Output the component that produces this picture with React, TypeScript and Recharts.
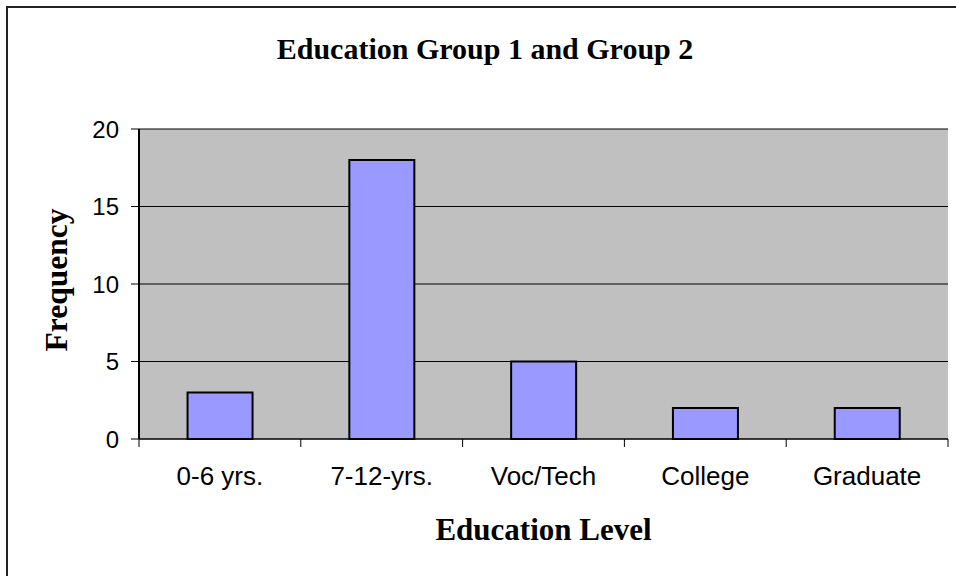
import * as React from "react"
import { BarChart, Bar, XAxis, YAxis, CartesianGrid, Label } from "recharts"

const categories = ["0-6 yrs.", "7-12-yrs.", "Voc/Tech", "College", "Graduate"]
const frequency = [3, 18, 5, 2, 2]
const yTicks = [0, 5, 10, 15, 20]

const data = categories.map((name, i) => ({ name, value: frequency[i] }))

const W = 956
const H = 576
const PLOT_LEFT = 139
const PLOT_RIGHT = 948
const PLOT_TOP = 129
const PLOT_BOTTOM = 439
const X_AXIS_H = 60
const BAND = (PLOT_RIGHT - PLOT_LEFT) / categories.length

const sans = "'Liberation Sans', Arial, sans-serif"
const serif = "'Liberation Serif', 'Times New Roman', serif"

// category ticks sit on the band edges, labels in the middle
const XTick = (props: any) => {
  const { x, y, payload, index } = props
  const half = payload && payload.offset ? payload.offset : BAND / 2
  const last = index === categories.length - 1
  return (
    <g>
      <line x1={x - half} x2={x - half} y1={y - 8} y2={y} stroke="#000" strokeWidth={1} />
      {last && <line x1={x + half} x2={x + half} y1={y - 8} y2={y} stroke="#000" strokeWidth={1} />}
      <text x={x} y={y + 38} textAnchor="middle" fontSize={26} fontFamily={sans} fill="#000">
        {payload.value}
      </text>
    </g>
  )
}

const YTitle = (props: any) => {
  const vb = props.viewBox || { x: 0, y: PLOT_TOP, width: PLOT_LEFT, height: PLOT_BOTTOM - PLOT_TOP }
  const x = vb.x + 67
  const y = vb.y + vb.height / 2 - 4
  return (
    <text x={x} y={y} transform={`rotate(-90 ${x} ${y})`} textAnchor="middle" fontSize={31.5} fontWeight="bold" fontFamily={serif} fill="#000">
      Frequency
    </text>
  )
}

const XTitle = (props: any) => {
  const vb = props.viewBox || { x: PLOT_LEFT, y: PLOT_BOTTOM, width: PLOT_RIGHT - PLOT_LEFT, height: X_AXIS_H }
  return (
    <text x={vb.x + vb.width / 2} y={vb.y + 101} textAnchor="middle" fontSize={31} fontWeight="bold" fontFamily={serif} fill="#000">
      Education Level
    </text>
  )
}

export default function App() {
  return (
    <div style={{ position: "fixed", left: 0, top: 0, width: W, height: H, overflow: "hidden", background: "#fff" }}>
      <div
        style={{
          position: "absolute",
          left: 6,
          top: 6,
          width: 1000,
          height: 1000,
          border: "2px solid #222",
          boxSizing: "border-box",
        }}
      />
      <div
        style={{
          position: "absolute",
          left: 0,
          top: 34,
          width: 970,
          textAlign: "center",
          fontFamily: serif,
          fontWeight: "bold",
          fontSize: 30,
          lineHeight: "30px",
          color: "#000",
        }}
      >
        Education Group 1 and Group 2
      </div>
      <div style={{ position: "absolute", left: 0, top: 0 }}>
        <BarChart
          width={W}
          height={H}
          data={data}
          margin={{ top: PLOT_TOP, right: W - PLOT_RIGHT, bottom: H - PLOT_BOTTOM - X_AXIS_H, left: 0 }}
          barCategoryGap="30%"
        >
          <CartesianGrid vertical={false} stroke="#000" strokeWidth={1} fill="#C0C0C0" fillOpacity={1} />
          <XAxis
            dataKey="name"
            height={X_AXIS_H}
            axisLine={{ stroke: "#000", strokeWidth: 1 }}
            tickLine={{ stroke: "none" }}
            tickSize={8}
            tickMargin={0}
            interval={0}
            tick={<XTick />}
          >
            <Label content={<XTitle />} />
          </XAxis>
          <XAxis
            xAxisId="top"
            dataKey="name"
            orientation="top"
            height={0}
            tick={false}
            tickLine={false}
            axisLine={{ stroke: "#808080", strokeWidth: 2 }}
          />
          <YAxis
            width={PLOT_LEFT}
            domain={[0, 20]}
            ticks={yTicks}
            interval={0}
            axisLine={{ stroke: "#000", strokeWidth: 2 }}
            tickLine={{ stroke: "#000", strokeWidth: 1 }}
            tickSize={8}
            tickMargin={12}
            tick={{ fontSize: 24, fill: "#000", fontFamily: sans }}
          >
            <Label content={<YTitle />} />
          </YAxis>
          <YAxis
            yAxisId="right"
            orientation="right"
            width={0}
            domain={[0, 20]}
            tick={false}
            tickLine={false}
            axisLine={{ stroke: "#808080", strokeWidth: 2 }}
          />
          <Bar dataKey="value" fill="#9999FF" stroke="#000" strokeWidth={2} isAnimationActive={false} />
        </BarChart>
      </div>
    </div>
  )
}
